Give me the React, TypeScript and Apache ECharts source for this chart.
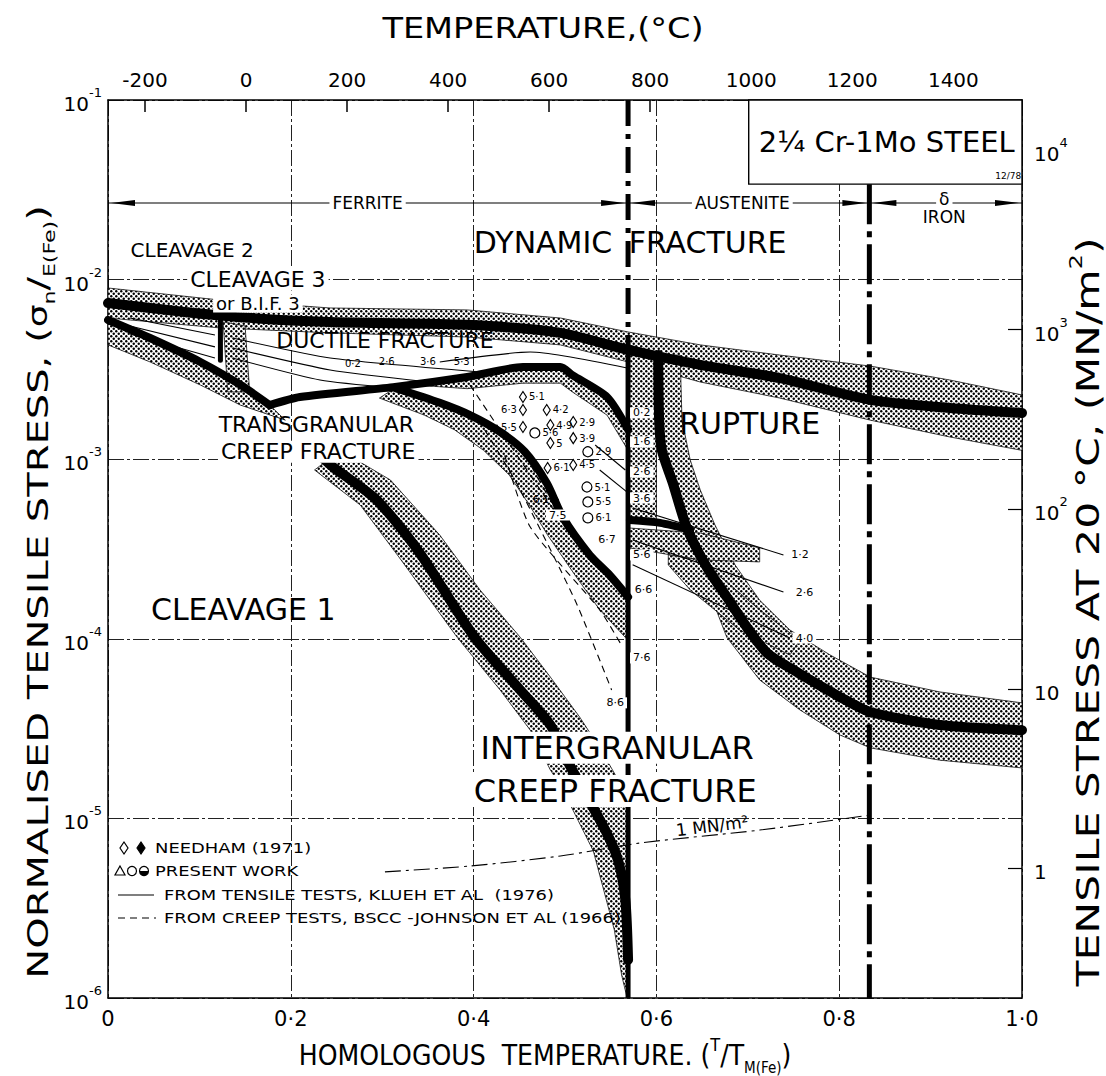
import React, { useEffect, useRef } from 'react';
import * as echarts from 'echarts';

const FONT = '"DejaVu Sans", "Liberation Sans", sans-serif';
const FONT_NARROW = '"DejaVu Sans Condensed", "Liberation Sans Narrow", "DejaVu Sans", sans-serif';

// ---------- axes ----------
const T_MELT_FE_K = 1809;
const E_FE_20C = 1.9e5; // MN/m^2
const homologousTicks = [0, 0.2, 0.4, 0.6, 0.8, 1.0];
const celsiusTicks = [-200, 0, 200, 400, 600, 800, 1000, 1200, 1400];
const stressMNTicks = [1, 10, 100, 1000, 10000];
const normStressMin = 1e-6;
const normStressMax = 1e-1;

// ---------- phase fields ----------
const ALPHA_GAMMA = 0.569;
const GAMMA_DELTA = 0.833;
const PHASE_LEVEL = 2.67e-2;
const phaseRanges = [[0, ALPHA_GAMMA], [ALPHA_GAMMA, GAMMA_DELTA], [GAMMA_DELTA, 1.0]];
const specBox = [[0.701, 1e-1], [1.0, 3.4e-2]];

// ---------- heavy boundary lines (T/TM, sigma/E) ----------
const boundaryDynamic = [[0, 7.4e-3], [0.123, 6.3e-3], [0.243, 5.8e-3], [0.393, 5.6e-3], [0.495, 5.05e-3], [0.569, 4.06e-3], [0.648, 3.35e-3], [0.735, 2.83e-3], [0.834, 2.14e-3], [0.921, 1.93e-3], [1.0, 1.81e-3]];
const boundaryCleavage = [[0, 5.96e-3], [0.046, 4.73e-3], [0.101, 3.48e-3], [0.145, 2.59e-3], [0.177, 2.0e-3]];
const boundaryCleavage3 = [[0.123, 6.3e-3], [0.123, 3.56e-3]];
const boundaryDuctile = [[0.177, 2.0e-3], [0.210, 2.22e-3], [0.312, 2.52e-3], [0.393, 2.87e-3], [0.454, 3.26e-3], [0.495, 3.26e-3], [0.508, 2.94e-3], [0.546, 2.22e-3], [0.569, 1.46e-3]];
const boundaryTransgranular = [[0.314, 2.49e-3], [0.363, 2.06e-3], [0.396, 1.76e-3], [0.429, 1.42e-3], [0.456, 1.10e-3], [0.480, 7.36e-4], [0.498, 4.71e-4], [0.527, 2.93e-4], [0.549, 2.26e-4], [0.569, 1.71e-4]];
const boundaryIntergranular = [[0.232, 1.05e-3], [0.246, 9.06e-4], [0.294, 5.93e-4], [0.341, 3.01e-4], [0.401, 1.02e-4], [0.451, 5.19e-5], [0.484, 3.31e-5], [0.505, 1.98e-5], [0.518, 1.50e-5], [0.544, 8.61e-6], [0.558, 5.86e-6], [0.566, 3.52e-6], [0.569, 1.63e-6]];
const boundaryRupture = [[0.602, 3.80e-3], [0.603, 1.65e-3], [0.606, 1.12e-3], [0.618, 7.36e-4], [0.633, 4.19e-4], [0.655, 2.51e-4], [0.677, 1.71e-4], [0.699, 1.16e-4], [0.721, 8.34e-5], [0.750, 6.70e-5], [0.801, 4.74e-5], [0.834, 3.91e-5], [0.910, 3.31e-5], [1.0, 3.10e-5]];
const boundaryAustenite = [[0.571, 4.58e-4], [0.604, 4.42e-4], [0.637, 4.04e-4]];
const alphaGammaDashed = [[ALPHA_GAMMA, 1e-1], [ALPHA_GAMMA, 4.06e-3]];
const alphaGammaSolid = [[ALPHA_GAMMA, 4.06e-3], [ALPHA_GAMMA, 1e-6]];
const gammaDeltaLine = [[GAMMA_DELTA, 3.4e-2], [GAMMA_DELTA, 1e-6]];

// ---------- stippled bands: [upper edge, lower edge] ----------
const bandDynamicUpper = [[0, 8.98e-3], [0.123, 7.69e-3], [0.243, 6.95e-3], [0.393, 6.78e-3], [0.495, 6.11e-3], [0.569, 5.11e-3], [0.648, 4.33e-3], [0.735, 3.80e-3], [0.834, 3.30e-3], [0.921, 2.76e-3], [1.0, 2.28e-3]];
const bandDynamicLower = [[0, 6.11e-3], [0.123, 5.38e-3], [0.243, 5.05e-3], [0.393, 4.79e-3], [0.495, 4.33e-3], [0.569, 3.48e-3], [0.648, 2.69e-3], [0.735, 2.19e-3], [0.834, 1.65e-3], [0.921, 1.33e-3], [1.0, 1.12e-3]];
const bandCleavageLower = [[0, 4.33e-3], [0.046, 3.48e-3], [0.101, 2.59e-3], [0.145, 2.0e-3], [0.194, 1.65e-3]];
const bandDuctileUpper = [[0.330, 2.60e-3], [0.393, 2.87e-3], [0.454, 3.26e-3], [0.495, 3.26e-3], [0.508, 2.94e-3], [0.546, 2.22e-3], [0.569, 1.46e-3]];
const bandDuctileLower = [[0.330, 2.60e-3], [0.393, 2.47e-3], [0.454, 2.65e-3], [0.495, 2.65e-3], [0.508, 2.37e-3], [0.546, 1.76e-3], [0.569, 1.12e-3]];
const bandTransLower = [[0.297, 2.19e-3], [0.346, 1.76e-3], [0.379, 1.46e-3], [0.411, 1.12e-3], [0.439, 8.17e-4], [0.461, 5.56e-4], [0.481, 3.78e-4], [0.511, 2.26e-4], [0.538, 1.45e-4], [0.569, 9.8e-5]];
const bandInterRight = [[0.254, 1.12e-3], [0.309, 7.66e-4], [0.363, 3.78e-4], [0.407, 1.87e-4], [0.451, 1.02e-4], [0.484, 6.12e-5], [0.516, 3.67e-5], [0.538, 2.47e-5], [0.555, 1.75e-5], [0.569, 1.44e-5], [0.569, 1e-6]];
const bandInterLeft = [[0.226, 8.71e-4], [0.276, 5.56e-4], [0.319, 2.82e-4], [0.382, 1.02e-4], [0.429, 5.19e-5], [0.462, 3.10e-5], [0.484, 1.86e-5], [0.496, 1.50e-5], [0.531, 6.58e-6], [0.554, 2.39e-6], [0.562, 1.34e-6], [0.568, 1e-6]];
const bandRuptureUpper = [[0.626, 3.80e-3], [0.628, 1.65e-3], [0.637, 9.9e-4], [0.648, 6.74e-4], [0.664, 4.31e-4], [0.686, 2.58e-4], [0.713, 1.64e-4], [0.746, 1.12e-4], [0.790, 8.13e-5], [0.834, 6.12e-5], [0.910, 5.06e-5], [1.0, 4.40e-5]];
const bandRuptureLower = [[0.602, 3.80e-3], [0.603, 1.65e-3], [0.606, 1.12e-3], [0.618, 7.36e-4], [0.633, 4.19e-4], [0.653, 2.12e-4], [0.677, 1.02e-4], [0.713, 5.90e-5], [0.757, 4.02e-5], [0.801, 2.91e-5], [0.834, 2.47e-5], [0.910, 2.11e-5], [1.0, 1.91e-5]];
// closed stippled patches
const patchCleavage3 = [[0.126, 5.81e-3], [0.150, 5.52e-3], [0.155, 2.37e-3], [0.131, 2.37e-3]];
const patchAlphaGamma = [[0.570, 4.33e-3], [0.600, 3.95e-3], [0.600, 4.58e-4], [0.570, 4.58e-4]];
const patchAustenite = [[0.570, 4.14e-4], [0.648, 3.88e-4], [0.713, 3.21e-4], [0.713, 2.68e-4], [0.648, 2.75e-4], [0.570, 3.21e-4]];
const patchAusteniteDiag = [[0.613, 2.93e-4], [0.648, 2.75e-4], [0.713, 1.45e-4], [0.757, 9.8e-5], [0.746, 8.13e-5], [0.691, 1.12e-4], [0.637, 1.87e-4], [0.613, 2.58e-4]];

// ---------- thin lines: tensile tests (Klueh) ----------
const kluehLines = [
  [[0.024, 6.11e-3], [0.117, 4.92e-3]],
  [[0.024, 5.52e-3], [0.117, 4.22e-3]],
  [[0.024, 4.98e-3], [0.117, 3.66e-3]],
  [[0.136, 4.73e-3], [0.243, 3.66e-3], [0.407, 3.06e-3]],
  [[0.136, 4.16e-3], [0.243, 3.14e-3], [0.352, 2.69e-3]],
  [[0.136, 3.66e-3], [0.232, 2.76e-3], [0.314, 2.49e-3]],
  [[0.363, 3.48e-3], [0.462, 3.95e-3], [0.568, 3.22e-3]],
  [[0.574, 5.35e-4], [0.739, 2.93e-4]],
  [[0.574, 3.55e-4], [0.739, 1.82e-4]],
  [[0.574, 2.58e-4], [0.746, 1.01e-4]],
  [[0.538, 8.71e-4], [0.569, 6.49e-4]],
  [[0.533, 1.20e-3], [0.566, 8.71e-4]],
];
// ---------- dashed lines: creep tests (BSCC - Johnson) ----------
const bsccLines = [
  [[0.412, 1.46e-3], [0.447, 7.36e-4], [0.511, 1.64e-4], [0.551, 5.19e-5]],
  [[0.434, 1.05e-3], [0.462, 4.19e-4], [0.538, 1.45e-4], [0.563, 9.0e-5]],
  [[0.451, 1.20e-3], [0.484, 5.93e-4], [0.544, 2.26e-4]],
  [[0.396, 2.59e-3], [0.473, 6.74e-4], [0.495, 4.58e-4]],
];
const oneMNLine = [[0.303, 5.04e-6], [0.396, 5.43e-6], [0.495, 6.18e-6], [0.582, 7.29e-6], [0.713, 8.61e-6], [0.832, 1.04e-5]];

// ---------- data points ----------
const needhamOpenRight = [[0.454, 2.22e-3, '5·1'], [0.480, 1.88e-3, '4·2'], [0.484, 1.55e-3, '4·9'], [0.509, 1.61e-3, '2·9'], [0.484, 1.23e-3, '5'], [0.509, 1.31e-3, '3·9'], [0.481, 8.94e-4, '6·1'], [0.509, 9.29e-4, '4·5']];
const needhamOpenLeft = [[0.454, 1.88e-3, '6·3'], [0.454, 1.51e-3, '5·5']];
const needhamFilled = [[0.489, 5.93e-4, '6·1']];
const presentCircles = [[0.467, 1.40e-3, '5·6'], [0.525, 1.10e-3, '2·9'], [0.524, 7.00e-4, '5·1'], [0.525, 5.78e-4, '5·5'], [0.525, 4.71e-4, '6·1']];

// ---------- annotations ----------
const regionLabels = [
  { text: 'DYNAMIC', x: 0.476, y: 1.6e-2, kind: 'big' },
  { text: 'FRACTURE', x: 0.656, y: 1.6e-2, kind: 'big' },
  { text: 'CLEAVAGE 2', x: 0.092, y: 1.46e-2, kind: 'small' },
  { text: 'CLEAVAGE 3', x: 0.164, y: 1.0e-2, kind: 'midBg' },
  { text: 'or B.I.F. 3', x: 0.164, y: 7.35e-3, kind: 'smallBg' },
  { text: 'DUCTILE FRACTURE', x: 0.303, y: 4.6e-3, kind: 'mid' },
  { text: 'TRANSGRANULAR', x: 0.228, y: 1.56e-3, kind: 'mid' },
  { text: 'CREEP FRACTURE', x: 0.230, y: 1.10e-3, kind: 'midBg' },
  { text: 'RUPTURE', x: 0.702, y: 1.59e-3, kind: 'big' },
  { text: 'CLEAVAGE 1', x: 0.148, y: 1.45e-4, kind: 'big' },
  { text: 'INTERGRANULAR', x: 0.557, y: 2.47e-5, kind: 'huge' },
  { text: 'CREEP FRACTURE', x: 0.555, y: 1.42e-5, kind: 'huge' },
  { text: '1 MN/m²', x: 0.661, y: 9.08e-6, kind: 'note' },
  { text: 'FERRITE', x: 0.284, y: PHASE_LEVEL, kind: 'phase' },
  { text: 'AUSTENITE', x: 0.694, y: PHASE_LEVEL, kind: 'phase' },
  { text: 'δ', x: 0.915, y: 2.81e-2, kind: 'phase' },
  { text: 'IRON', x: 0.915, y: 2.23e-2, kind: 'phasePlain' },
  { text: '2¼ Cr-1Mo STEEL', x: 0.712, y: 5.84e-2, kind: 'steel' },
  { text: '12/78', x: 0.985, y: 3.78e-2, kind: 'tiny' },
];
const sampleLabels = [
  ['0·2', 0.584, 1.81e-3], ['1·6', 0.584, 1.25e-3], ['2·6', 0.584, 8.49e-4], ['3·6', 0.584, 6.08e-4],
  ['5·6', 0.584, 2.93e-4], ['6·6', 0.586, 1.87e-4], ['7·6', 0.584, 7.82e-5], ['8·6', 0.555, 4.40e-5],
  ['6·7', 0.546, 3.55e-4], ['7·5', 0.492, 4.89e-4],
  ['1·2', 0.757, 2.93e-4], ['2·6', 0.762, 1.82e-4], ['4·0', 0.762, 1.01e-4],
];
const ductileLabels = [
  ['0·2', 0.268, 3.40e-3], ['2·6', 0.305, 3.48e-3], ['3·6', 0.350, 3.50e-3], ['5·3', 0.387, 3.52e-3],
];

const textKinds: any = {
  big: { size: 30 },
  huge: { size: 32, bg: true },
  mid: { size: 22 },
  midBg: { size: 22, bg: true },
  small: { size: 20 },
  smallBg: { size: 18, bg: true },
  phase: { size: 17, bg: true },
  phasePlain: { size: 17 },
  tiny: { size: 9 },
  note: { size: 17, rot: 0.12 },
  steel: { size: 29, align: 'left' },
  num: { size: 11, bg: true },
  numPlain: { size: 10 },
};

function makeStipple() {
  const s = 5;
  const c = document.createElement('canvas');
  c.width = s;
  c.height = s;
  const ctx = c.getContext('2d') as CanvasRenderingContext2D;
  ctx.fillStyle = '#fff';
  ctx.fillRect(0, 0, s, s);
  ctx.fillStyle = '#000';
  [[1.25, 1.25], [3.75, 3.75]].forEach(([x, y]) => {
    ctx.beginPath();
    ctx.arc(x, y, 1.2, 0, Math.PI * 2);
    ctx.fill();
  });
  return { image: c.toDataURL(), repeat: 'repeat', imageWidth: s, imageHeight: s };
}

function heavy(data: number[][], width: number, extra: any = {}) {
  return {
    type: 'line', data, symbol: 'none', smooth: 0.25, z: 4, silent: true,
    lineStyle: { color: '#000', width, cap: 'round', join: 'round', ...extra },
  };
}
function thin(data: number[][], dashed: boolean) {
  return {
    type: 'line', data, symbol: 'none', smooth: 0.2, z: 3, silent: true,
    lineStyle: { color: '#000', width: 1.1, type: dashed ? [7, 5] : 'solid' },
  };
}

function buildOption(stipple: any) {
  const polygons = [
    bandDynamicUpper.concat([...bandDynamicLower].reverse()),
    boundaryCleavage.concat([...bandCleavageLower].reverse()),
    patchCleavage3,
    bandDuctileUpper.concat([...bandDuctileLower].reverse()),
    boundaryTransgranular.concat([...bandTransLower].reverse()),
    bandInterRight.concat([...bandInterLeft].reverse()),
    bandRuptureUpper.concat([...bandRuptureLower].reverse()),
    patchAlphaGamma,
    patchAustenite,
    patchAusteniteDiag,
  ];
  const gridLine = { show: true, lineStyle: { color: '#222', width: 1, type: [16, 3, 3, 3] } };
  const axisLineStyle = { color: '#000', width: 1.5 };
  const supRich = {
    b: { fontSize: 20, fontFamily: FONT, color: '#000', lineHeight: 28, verticalAlign: 'bottom' },
    s: { fontSize: 13, fontFamily: FONT, color: '#000', lineHeight: 28, verticalAlign: 'top' },
  };
  const allText = [
    ...regionLabels.map((l) => ({ ...l })),
    ...sampleLabels.map((s) => ({ text: s[0], x: s[1], y: s[2], kind: 'num' })),
    ...ductileLabels.map((s) => ({ text: s[0], x: s[1], y: s[2], kind: 'numPlain' })),
  ];

  const series: any[] = [
    {
      type: 'custom', z: 2, silent: true,
      data: polygons.map((p) => p[0]),
      renderItem: (params: any, api: any) => ({
        type: 'polygon',
        shape: { points: polygons[params.dataIndex].map((p) => api.coord(p)) },
        style: { fill: stipple, stroke: '#111', lineWidth: 0.8 },
      }),
    },
    {
      type: 'custom', z: 3, silent: true,
      data: [specBox[0]],
      renderItem: (params: any, api: any) => {
        const a = api.coord(specBox[0]);
        const b = api.coord(specBox[1]);
        return {
          type: 'rect',
          shape: { x: a[0], y: a[1], width: b[0] - a[0], height: b[1] - a[1] },
          style: { fill: '#fff', stroke: '#000', lineWidth: 1.4 },
        };
      },
    },
    {
      type: 'custom', z: 3, silent: true,
      data: phaseRanges.map((r) => [r[0], PHASE_LEVEL]),
      renderItem: (params: any, api: any) => {
        const r = phaseRanges[params.dataIndex];
        const a = api.coord([r[0], PHASE_LEVEL]);
        const b = api.coord([r[1], PHASE_LEVEL]);
        const L = 24, W = 3, g = 3;
        return {
          type: 'group',
          children: [
            { type: 'line', shape: { x1: a[0], y1: a[1], x2: b[0], y2: b[1] }, style: { stroke: '#000', lineWidth: 1.2 } },
            { type: 'polygon', shape: { points: [[a[0] + g, a[1]], [a[0] + g + L, a[1] - W], [a[0] + g + L, a[1] + W]] }, style: { fill: '#000' } },
            { type: 'polygon', shape: { points: [[b[0] - g, b[1]], [b[0] - g - L, b[1] - W], [b[0] - g - L, b[1] + W]] }, style: { fill: '#000' } },
          ],
        };
      },
    },
    ...kluehLines.map((l) => thin(l, false)),
    ...bsccLines.map((l) => thin(l, true)),
    {
      type: 'line', data: oneMNLine, symbol: 'none', smooth: 0.3, z: 3, silent: true,
      lineStyle: { color: '#000', width: 1.1, type: [16, 5, 3, 5] },
    },
    heavy(boundaryDynamic, 10),
    heavy(boundaryCleavage, 8),
    heavy(boundaryCleavage3, 5),
    heavy(boundaryDuctile, 8),
    heavy(boundaryTransgranular, 8),
    heavy(boundaryIntergranular, 10),
    heavy(boundaryRupture, 10),
    heavy(boundaryAustenite, 8),
    { ...heavy(alphaGammaDashed, 5, { type: [26, 8, 5, 8], cap: 'butt' }), smooth: false },
    { ...heavy(alphaGammaSolid, 5, { cap: 'butt' }), smooth: false },
    { ...heavy(gammaDeltaLine, 5, { type: [40, 7, 6, 7], cap: 'butt' }), smooth: false },
    {
      type: 'scatter', z: 5, silent: true, data: needhamOpenRight, symbol: 'diamond', symbolSize: [7, 11],
      itemStyle: { color: '#fff', borderColor: '#000', borderWidth: 1.2, opacity: 1 },
      label: { show: true, position: 'right', distance: 2, formatter: (p: any) => p.data[2], fontSize: 10, color: '#000', fontFamily: FONT },
    },
    {
      type: 'scatter', z: 5, silent: true, data: needhamOpenLeft, symbol: 'diamond', symbolSize: [7, 11],
      itemStyle: { color: '#fff', borderColor: '#000', borderWidth: 1.2, opacity: 1 },
      label: { show: true, position: 'left', distance: 2, formatter: (p: any) => p.data[2], fontSize: 10, color: '#000', fontFamily: FONT },
    },
    {
      type: 'scatter', z: 5, silent: true, data: needhamFilled, symbol: 'diamond', symbolSize: [7, 11],
      itemStyle: { color: '#000', borderColor: '#000', borderWidth: 1.2, opacity: 1 },
      label: { show: true, position: 'left', distance: 2, formatter: (p: any) => p.data[2], fontSize: 10, color: '#000', fontFamily: FONT },
    },
    {
      type: 'scatter', z: 5, silent: true, data: presentCircles, symbol: 'circle', symbolSize: 10,
      itemStyle: { color: '#fff', borderColor: '#000', borderWidth: 1.2, opacity: 1 },
      label: { show: true, position: 'right', distance: 2, formatter: (p: any) => p.data[2], fontSize: 10, color: '#000', fontFamily: FONT },
    },
    {
      type: 'custom', z: 10, silent: true,
      data: allText.map((t) => [t.x, t.y]),
      renderItem: (params: any, api: any) => {
        const t = allText[params.dataIndex];
        const k = textKinds[t.kind];
        const p = api.coord([t.x, t.y]);
        return {
          type: 'text', x: p[0], y: p[1], rotation: k.rot || 0,
          style: {
            text: t.text, fill: '#000', fontSize: k.size, fontFamily: FONT,
            align: k.align || 'center', verticalAlign: 'middle',
            textAlign: k.align || 'center', textVerticalAlign: 'middle',
            backgroundColor: k.bg ? '#fff' : undefined, padding: k.bg ? [0, 3] : 0,
          },
        };
      },
    },
  ];

  const legendRows = [848, 871, 895, 918];
  const legendText = ['NEEDHAM (1971)', 'PRESENT WORK', 'FROM TENSILE TESTS, KLUEH ET AL  (1976)', 'FROM CREEP TESTS, BSCC -JOHNSON ET AL (1966)'];
  const txt = (x: number, y: number, text: string, size: number, extra: any = {}) => ({
    type: 'text', x, y, z: 20, rotation: extra.rotation || 0, scaleX: extra.scaleX || 1,
    style: {
      text, fill: '#000', fontSize: size, fontFamily: extra.fontFamily || FONT,
      align: extra.align || 'center', verticalAlign: 'middle',
      textAlign: extra.align || 'center', textVerticalAlign: 'middle', rich: extra.rich,
    },
  });

  const graphic: any[] = [
    txt(543, 28, 'TEMPERATURE,(°C)', 28, { scaleX: 1.2 }),
    txt(545, 1055, '{a|HOMOLOGOUS  TEMPERATURE. (}{s|T}{a|/}{a|T}{b|M(Fe)}{a|)}', 28, {
      fontFamily: FONT_NARROW,
      rich: {
        a: { fontSize: 28, fontFamily: FONT_NARROW, lineHeight: 40, verticalAlign: 'middle' },
        s: { fontSize: 18, fontFamily: FONT_NARROW, lineHeight: 40, verticalAlign: 'top' },
        b: { fontSize: 15, fontFamily: FONT_NARROW, lineHeight: 40, verticalAlign: 'bottom' },
      },
    }),
    txt(38, 592, '{a|NORMALISED TENSILE STRESS, (}{g|σ}{b|n}{a|/}{b|E(Fe)}{a|)}', 29, {
      rotation: Math.PI / 2, scaleX: 1.38,
      rich: {
        a: { fontSize: 29, fontFamily: FONT, lineHeight: 40, verticalAlign: 'middle' },
        g: { fontSize: 26, fontFamily: FONT, lineHeight: 40, verticalAlign: 'middle' },
        b: { fontSize: 16, fontFamily: FONT, lineHeight: 40, verticalAlign: 'bottom' },
      },
    }),
    txt(1088, 612, '{a|TENSILE STRESS AT 20 °C, (MN/m}{s|2}{a|)}', 32, {
      rotation: Math.PI / 2, scaleX: 1.33,
      rich: {
        a: { fontSize: 32, fontFamily: FONT, lineHeight: 42, verticalAlign: 'middle' },
        s: { fontSize: 18, fontFamily: FONT, lineHeight: 42, verticalAlign: 'top' },
      },
    }),
    // legend swatches
    { type: 'polygon', z: 20, shape: { points: [[124, 842], [128, 848], [124, 854], [120, 848]] }, style: { fill: '#fff', stroke: '#000', lineWidth: 1.2 } },
    { type: 'polygon', z: 20, shape: { points: [[141, 842], [145, 848], [141, 854], [137, 848]] }, style: { fill: '#000', stroke: '#000', lineWidth: 1.2 } },
    { type: 'polygon', z: 20, shape: { points: [[120, 866], [125, 875], [115, 875]] }, style: { fill: '#fff', stroke: '#000', lineWidth: 1.2 } },
    { type: 'circle', z: 20, shape: { cx: 132, cy: 871, r: 4.5 }, style: { fill: '#fff', stroke: '#000', lineWidth: 1.2 } },
    { type: 'circle', z: 20, shape: { cx: 144, cy: 871, r: 4.5 }, style: { fill: '#fff', stroke: '#000', lineWidth: 1.2 } },
    { type: 'sector', z: 21, shape: { cx: 144, cy: 871, r: 4.5, startAngle: 0, endAngle: Math.PI }, style: { fill: '#000' } },
    { type: 'line', z: 20, shape: { x1: 118, y1: 895, x2: 154, y2: 895 }, style: { stroke: '#000', lineWidth: 1.2 } },
    { type: 'line', z: 20, shape: { x1: 118, y1: 918, x2: 156, y2: 918 }, style: { stroke: '#000', lineWidth: 1.2, lineDash: [7, 5] } },
    ...legendText.map((t, i) => txt(i < 2 ? 155 : 164, legendRows[i], t, 14, { align: 'left', scaleX: 1.28 })),
  ];

  return {
    animation: false,
    backgroundColor: '#fff',
    textStyle: { fontFamily: FONT },
    grid: { left: 108, top: 100, width: 914, height: 898, containLabel: false, outerBoundsMode: 'none' },
    xAxis: [
      {
        type: 'value', min: homologousTicks[0], max: homologousTicks[homologousTicks.length - 1], interval: 0.2, position: 'bottom',
        axisLine: { show: true, onZero: false, lineStyle: axisLineStyle },
        axisTick: { show: false },
        splitLine: gridLine,
        axisLabel: {
          color: '#000', fontSize: 21, fontFamily: FONT, margin: 10, showMinLabel: true, showMaxLabel: true,
          formatter: (v: number) => (v === 0 ? '0' : v.toFixed(1).replace('.', '·')),
        },
      },
      {
        type: 'value', min: -273.15, max: T_MELT_FE_K - 273.15, position: 'top',
        axisLine: { show: true, onZero: false, lineStyle: axisLineStyle },
        axisTick: { show: true, inside: true, length: 12, customValues: celsiusTicks, lineStyle: { color: '#000', width: 1.5 } },
        axisLabel: { customValues: celsiusTicks, color: '#000', fontSize: 20, fontFamily: FONT, margin: 10, formatter: (v: number) => String(v) },
        splitLine: { show: false },
      },
    ],
    yAxis: [
      {
        type: 'log', logBase: 10, min: normStressMin, max: normStressMax, position: 'left', splitNumber: 5,
        axisLine: { show: true, onZero: false, lineStyle: axisLineStyle },
        axisTick: { show: false },
        splitLine: gridLine,
        axisLabel: {
          margin: 6,
          formatter: (v: number) => `{b|10}{s|${Math.round(Math.log10(v))}}`,
          rich: supRich,
        },
      },
      {
        type: 'log', logBase: 10, min: E_FE_20C * normStressMin, max: E_FE_20C * normStressMax, position: 'right',
        axisLine: { show: true, onZero: false, lineStyle: axisLineStyle },
        axisTick: { show: true, inside: true, length: 14, customValues: stressMNTicks, lineStyle: { color: '#000', width: 1.2 } },
        splitLine: { show: false },
        axisLabel: {
          customValues: stressMNTicks, margin: 12, color: '#000', fontSize: 20, fontFamily: FONT,
          formatter: (v: number) => {
            const e = Math.round(Math.log10(v));
            if (e === 0) return '{b|1}';
            if (e === 1) return '{b|10}';
            return `{b|10}{s|${e}}`;
          },
          rich: {
            b: { fontSize: 20, fontFamily: FONT, color: '#000', lineHeight: 28, verticalAlign: 'bottom' },
            s: { fontSize: 13, fontFamily: FONT, color: '#000', lineHeight: 28, verticalAlign: 'top' },
          },
        },
      },
    ],
    graphic,
    series,
  };
}

export default function App() {
  const ref = useRef<HTMLDivElement>(null);
  useEffect(() => {
    if (!ref.current) return;
    const chart = echarts.init(ref.current, null, { renderer: 'svg' });
    chart.setOption(buildOption(makeStipple()) as any);
    return () => chart.dispose();
  }, []);
  return (
    <div
      ref={ref}
      style={{ position: 'fixed', left: 0, top: 0, width: 1106, height: 1076, background: '#fff' }}
    />
  );
}
